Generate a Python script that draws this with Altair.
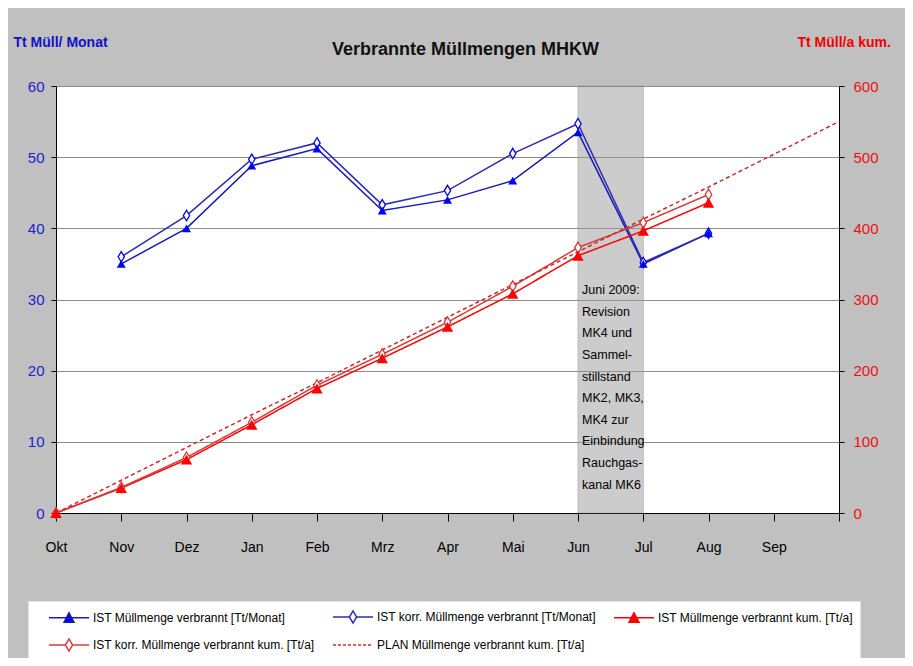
import altair as alt
import pandas as pd

# ---------------- data ----------------
months = ["Okt", "Nov", "Dez", "Jan", "Feb", "Mrz", "Apr", "Mai", "Jun", "Jul", "Aug", "Sep", ""]
month_idx = list(range(13))

ist_month = [None, 35.0, 40.0, 48.8, 51.2, 42.5, 44.0, 46.7, 53.5, 35.0, 39.3]
korr_month = [None, 36.0, 41.8, 49.7, 52.0, 43.3, 45.3, 50.5, 54.7, 35.2, 39.3]
ist_kum = [0, 35, 75, 124, 175, 217.5, 261.5, 308, 361.5, 396.5, 436]
korr_kum = [0, 36, 78, 127.5, 179.5, 223, 268, 318.5, 373, 408, 447.5]
plan_kum = [0, 46, 92, 138, 183, 229, 275, 321, 367, 413, 458, 504, 550]

S1 = "IST Müllmenge verbrannt [Tt/Monat]"
S2 = "IST korr. Müllmenge verbrannt [Tt/Monat]"
S3 = "IST Müllmenge verbrannt kum. [Tt/a]"
S4 = "IST korr. Müllmenge verbrannt kum. [Tt/a]"
S5 = "PLAN Müllmenge verbrannt kum. [Tt/a]"
series_names = [S1, S2, S3, S4, S5]

band_from = ["Jun"]
band_to = ["Jul"]
note_lines = ["Juni 2009:", "Revision", "MK4 und", "Sammel-", "stillstand",
              "MK2, MK3,", "MK4 zur", "Einbindung", "Rauchgas-", "kanal MK6"]
note_y = [31.3]

# ---------------- styling ----------------
FONT = "Liberation Sans"
BLUE_LINE = "#1a1ab4"
BLUE_MARK = "#0000f0"
RED = "#ff0000"
RED_DARK = "#d43a3a"
RED_PLAN = "#cc2a2a"
series_colors = [BLUE_LINE, "#2c2cb0", RED, RED_DARK, RED_PLAN]


def long_frame(values, name):
    rows = []
    for i, v in enumerate(values):
        if v is not None:
            rows.append({"idx": month_idx[i], "value": v, "series": name})
    return pd.DataFrame(rows)


df_m = pd.concat([long_frame(ist_month, S1), long_frame(korr_month, S2)], ignore_index=True)
df_k = pd.concat([long_frame(ist_kum, S3), long_frame(korr_kum, S4),
                  long_frame(plan_kum, S5)], ignore_index=True)
band_df = pd.DataFrame({"x0": [months.index(band_from[0])], "x1": [months.index(band_to[0])]})
note_df = pd.DataFrame({"x": [months.index(band_from[0])], "y": note_y,
                        "txt": ["\n".join(note_lines)]})

# ---------------- legend (symbols: line + marker) ----------------
p0, p1 = 0.625, 5.625
pc = (p0 + p1) / 2
tri = f"M{p0},0L{p1},0M{pc},-0.62L{pc+0.62},0.55L{pc-0.62},0.55Z"
dia = (f"M{p0},0L{pc-0.45},0M{pc+0.45},0L{p1},0"
       f"M{pc},-0.75L{pc+0.45},0L{pc},0.75L{pc-0.45},0Z")
lin = f"M{p0},0L{p1},0"

shape_expr = (f"datum.value=='{S1}'?'{tri}':datum.value=='{S2}'?'{dia}':"
              f"datum.value=='{S3}'?'{tri}':datum.value=='{S4}'?'{dia}':'{lin}'")
fill_expr = (f"datum.value=='{S1}'?'{BLUE_MARK}':datum.value=='{S2}'?'white':"
             f"datum.value=='{S3}'?'{RED}':datum.value=='{S4}'?'white':'transparent'")
dash_expr = f"datum.value=='{S5}'?[3,2]:[1,0]"

legend = alt.Legend(
    title=None, orient="none", legendX=-28, legendY=515, columns=3,
    direction="horizontal",
    fillColor="white", strokeColor="#e4e4e4", padding=7,
    symbolSize=256, symbolStrokeWidth=1.5, labelOffset=40,
    labelFont=FONT, labelFontSize=12, labelColor="black", labelLimit=500,
    columnPadding=4, rowPadding=10,
    symbolType=alt.ExprRef(shape_expr),
    symbolFillColor=alt.ExprRef(fill_expr),
    symbolDash=alt.ExprRef(dash_expr),
)

color = alt.Color("series:N", scale=alt.Scale(domain=series_names, range=series_colors),
                  legend=legend)

label_expr = "[" + ",".join(f"'{m}'" for m in months) + "][datum.value]"
x_enc = alt.X("idx:Q", scale=alt.Scale(domain=[0, 12], nice=False, zero=False),
              axis=alt.Axis(values=month_idx, labelExpr=label_expr, title=None, grid=False,
                            tickSize=8, tickColor="black", domainColor="black",
                            labelPadding=19, labelFont=FONT, labelFontSize=14,
                            labelColor="black", labelFlush=False))
band_x = alt.X("x0:Q", scale=alt.Scale(domain=[0, 12], nice=False, zero=False))

left_axis = alt.Axis(values=list(range(0, 61, 10)), title="Tt Müll/ Monat", titleAngle=0,
                     titleX=-43, titleY=-44, titleAlign="left", titleBaseline="middle",
                     titleColor="#1111c8", titleFont=FONT, titleFontSize=14,
                     titleFontWeight="bold", labelColor="#2222cc", labelFont=FONT,
                     labelFontSize=15, grid=True, gridColor="#8c8c8c", gridWidth=1.2,
                     tickColor="black", domainColor="black", tickSize=5, labelPadding=7)
right_axis = alt.Axis(values=list(range(0, 601, 100)), orient="right", title="Tt Müll/a kum.",
                      titleAngle=0, titleX=-42, titleY=-44, titleAlign="left",
                      titleBaseline="middle", titleColor="#ee0000", titleFont=FONT,
                      titleFontSize=14, titleFontWeight="bold", labelColor="#ee1111",
                      labelFont=FONT, labelFontSize=15, grid=False, tickColor="black",
                      domainColor="black", tickSize=5, labelPadding=9)

y_left = alt.Y("value:Q", scale=alt.Scale(domain=[0, 60], nice=False), axis=left_axis)
y_right = alt.Y("value:Q", scale=alt.Scale(domain=[0, 600], nice=False), axis=right_axis)

diamond_path = "M0,-1L0.6,0L0,1L-0.6,0Z"

# ---------------- left (monthly) group ----------------
band = alt.Chart(band_df).mark_rect(fill="#9a9a9a", opacity=0.5, stroke="#7a7a7a",
                                     strokeWidth=1).encode(x=band_x, x2="x1:Q")
note = alt.Chart(note_df).mark_text(align="left", baseline="middle", dx=4, lineBreak="\n",
                                    lineHeight=21.6, font=FONT, fontSize=12.5,
                                    color="black").encode(
    x=alt.X("x:Q", scale=alt.Scale(domain=[0, 12], nice=False, zero=False)),
    y=alt.Y("y:Q", scale=alt.Scale(domain=[0, 60], nice=False), axis=left_axis),
    text="txt:N")

base_m = alt.Chart(df_m).encode(x=x_enc, y=y_left)
lines_m = base_m.mark_line(strokeWidth=1.5).encode(color=color, order="idx:Q")
pts_s1 = base_m.transform_filter(alt.datum.series == S1).mark_point(
    shape="triangle-up", filled=True, size=80, color=BLUE_MARK, opacity=1)
pts_s2 = base_m.transform_filter(alt.datum.series == S2).mark_point(
    shape=diamond_path, filled=True, fill="white", stroke=BLUE_MARK, strokeWidth=1.3,
    size=110, opacity=1)
left_group = alt.layer(band, lines_m, pts_s2, pts_s1, note)

# ---------------- right (cumulative) group ----------------
base_k = alt.Chart(df_k).encode(x=x_enc, y=y_right)
lines_k = base_k.mark_line(strokeWidth=1.5).encode(
    color=color, order="idx:Q",
    strokeDash=alt.StrokeDash("series:N", scale=alt.Scale(domain=[S3, S4, S5],
                              range=[[1, 0], [1, 0], [4, 3]]), legend=None))
pts_s3 = base_k.transform_filter(alt.datum.series == S3).mark_point(
    shape="triangle-up", filled=True, size=130, color=RED, opacity=1)
pts_s4 = base_k.transform_filter(alt.datum.series == S4).mark_point(
    shape=diamond_path, filled=True, fill="white", stroke=RED_DARK, strokeWidth=1.3,
    size=120, opacity=1)
right_group = alt.layer(lines_k, pts_s4, pts_s3)

chart = alt.layer(left_group, right_group).resolve_scale(y="independent").properties(
    width=783, height=427,
    autosize=alt.AutoSizeParams(type="none"),
    padding={"left": 48, "top": 78, "right": 66, "bottom": 145},
    background="#c0c0c0",
    title=alt.TitleParams("Verbrannte Müllmengen MHKW", font=FONT, fontSize=18,
                          fontWeight="bold", color="#111111", anchor="middle",
                          frame="group", dx=18, offset=-24),
).configure_view(fill="white", stroke=None)

chart.save("out.html", embed_options={"renderer": "svg", "actions": False})
